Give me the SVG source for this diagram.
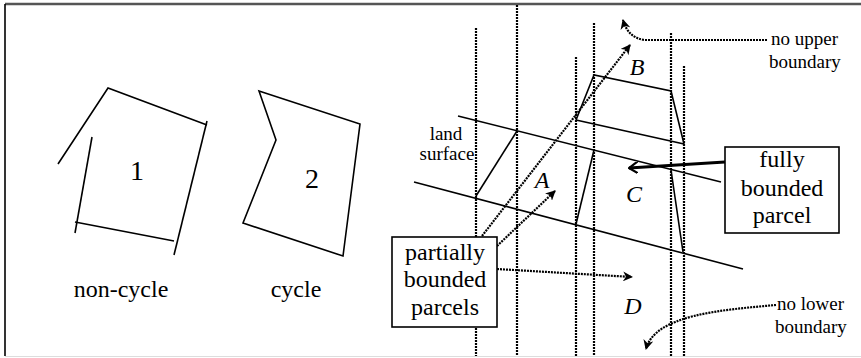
<svg xmlns="http://www.w3.org/2000/svg" width="861" height="358" viewBox="0 0 861 358">
<style>
.s{fill:none;stroke:#000;stroke-width:1.6}
.d{fill:none;stroke:#000;stroke-width:2.2;stroke-dasharray:2 1}
.t{font-family:'Liberation Serif','Times New Roman',serif;fill:#000}
.i{font-style:italic}
.box{fill:#fff;stroke:#000;stroke-width:1.6}
</style>
<defs>
<marker id="ah" viewBox="0 0 10 10" refX="9" refY="5" markerWidth="10" markerHeight="10" markerUnits="userSpaceOnUse" orient="auto">
<path d="M0,0 L10,5 L0,10 L3,5 Z" fill="#000"/>
</marker>
<marker id="op" viewBox="0 0 10 12" refX="9" refY="6" markerWidth="10" markerHeight="12" markerUnits="userSpaceOnUse" orient="auto">
<path d="M0,0 L9,6 L0,12" fill="none" stroke="#000" stroke-width="2.2"/>
</marker>
</defs>
<rect width="861" height="358" fill="#fff"/>
<g id="frame">
<line x1="5" y1="4" x2="861" y2="4" stroke="#555" stroke-width="2.5"/>
<line x1="5" y1="4" x2="5" y2="356" stroke="#000" stroke-width="1.6"/>
<line x1="5" y1="356.5" x2="861" y2="356.5" stroke="#ddd" stroke-width="1"/>
</g>
<g id="noncycle">
<polyline class="s" points="58,164 108,88 207,125"/>
<line class="s" x1="207" y1="121" x2="174" y2="255"/>
<line class="s" x1="75" y1="222" x2="174" y2="241"/>
<line class="s" x1="92" y1="137" x2="75" y2="233"/>
<text class="t" x="137" y="180" font-size="28" text-anchor="middle">1</text>
<text class="t" x="121" y="297" font-size="24" text-anchor="middle">non-cycle</text>
</g>
<g id="cycle">
<polygon class="s" points="259,91 276,140 243,223 343,256 360,124"/>
<text class="t" x="312" y="188" font-size="28" text-anchor="middle">2</text>
<text class="t" x="296" y="297" font-size="24" text-anchor="middle">cycle</text>
</g>
<g id="columns">
<line class="d" x1="476" y1="28" x2="476" y2="356"/>
<line class="d" x1="517" y1="5" x2="517" y2="356"/>
<line class="d" x1="576" y1="57" x2="576" y2="356"/>
<line class="d" x1="594" y1="23" x2="594" y2="356"/>
<line class="d" x1="671" y1="33" x2="671" y2="356"/>
<line class="d" x1="684" y1="66" x2="684" y2="356"/>
</g>
<g id="parcels">
<line class="s" x1="458" y1="116" x2="721" y2="182"/>
<line class="s" x1="414" y1="182" x2="743" y2="269"/>
<line class="s" x1="576" y1="120" x2="684" y2="144"/>
<polyline class="s" points="576,120 594,75 671,91 684,144"/>
<line class="s" x1="517" y1="131" x2="476" y2="196"/>
<line class="s" x1="594" y1="150" x2="576" y2="224"/>
<line class="s" x1="671" y1="170" x2="683" y2="252"/>
</g>
<g id="labels">
<text class="t i" x="637" y="75" font-size="24" text-anchor="middle">B</text>
<text class="t i" x="542" y="188" font-size="24" text-anchor="middle">A</text>
<text class="t i" x="634" y="202" font-size="24" text-anchor="middle">C</text>
<text class="t i" x="633" y="314" font-size="24" text-anchor="middle">D</text>
<text class="t" x="446" y="140" font-size="19" text-anchor="middle">land</text>
<text class="t" x="447" y="160" font-size="19" text-anchor="middle">surface</text>
<text class="t" x="771" y="45" font-size="19">no upper</text>
<text class="t" x="769" y="68" font-size="19">boundary</text>
<text class="t" x="777" y="310" font-size="19">no lower</text>
<text class="t" x="775" y="333" font-size="19">boundary</text>
</g>
<g id="connectors">
<path class="d" d="M767,40 L645,40 Q628,38 623,20" marker-end="url(#ah)"/>
<line class="d" x1="482" y1="236" x2="630" y2="45" marker-end="url(#ah)"/>
<line class="d" x1="497" y1="246" x2="555" y2="191" marker-end="url(#ah)"/>
<line class="d" x1="497" y1="269" x2="632" y2="277" marker-end="url(#ah)"/>
<path class="d" d="M776,305 C720,310 655,315 646,349" marker-end="url(#ah)"/>
<line x1="725" y1="162" x2="629" y2="168" stroke="#000" stroke-width="3" marker-end="url(#op)"/>
</g>
<g id="box-partial">
<rect class="box" x="392" y="237" width="105" height="90"/>
<text class="t" x="445" y="260" font-size="24" text-anchor="middle">partially</text>
<text class="t" x="445" y="287" font-size="24" text-anchor="middle">bounded</text>
<text class="t" x="445" y="315" font-size="24" text-anchor="middle">parcels</text>
</g>
<g id="box-full">
<rect class="box" x="725" y="147" width="114" height="86"/>
<text class="t" x="782" y="167" font-size="24" text-anchor="middle">fully</text>
<text class="t" x="782" y="196" font-size="24" text-anchor="middle">bounded</text>
<text class="t" x="782" y="223" font-size="24" text-anchor="middle">parcel</text>
</g>
</svg>
